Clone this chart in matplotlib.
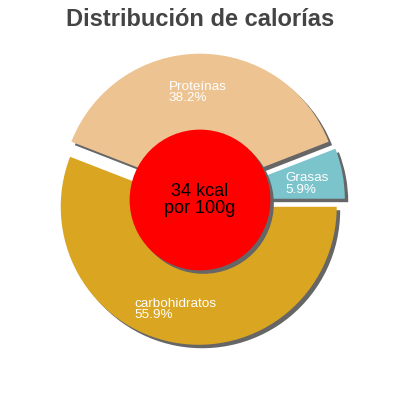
import matplotlib
matplotlib.use('Agg')
import matplotlib.pyplot as plt
import numpy as np

plt.rcParams['font.family'] = ['Liberation Sans', 'DejaVu Sans']

labels = ['Grasas', 'Proteínas', 'carbohidratos']
values = [5.9, 38.2, 55.9]
colors = ['#7cc4cc', '#edc391', '#daa520']
center_text = '34 kcal\npor 100g'
title = 'Distribución de calorías'

R = 138.0  # pie radius in px
fig = plt.figure(figsize=(4, 4), dpi=100)
ax = fig.add_axes([0, 0, 1, 1])

explode = [0.05, 0.06, 0.05]
sh = (0.025, -0.025)

# shadow first
ax.pie(values, explode=explode, startangle=0, colors=['#666666'] * 3,
       center=sh, radius=1.0, wedgeprops=dict(linewidth=0))
ax.pie(values, explode=explode, startangle=0, colors=colors,
       radius=1.0, wedgeprops=dict(linewidth=0))

# pie() resets limits, so set them afterwards
lim = 200.0 / R
ax.set_xlim(-lim, lim)
ax.set_ylim(-lim, lim)
ax.set_aspect('equal')
ax.axis('off')

# center circle with shadow
ax.add_patch(plt.Circle(sh, 0.51, color='#666666', lw=0))
ax.add_patch(plt.Circle((0, 0), 0.51, color='#ff0000', lw=0))
ax.text(0, 0, center_text, ha='center', va='center', fontsize=13,
        color='black', linespacing=1.0)

# slice labels
label_pos = [(0.62, 0.2), (-0.225, 0.865), (-0.475, -0.71)]
for name, v, (x, y) in zip(labels, values, label_pos):
    ax.text(x, y, '%s\n%.1f%%' % (name, v), ha='left', va='top',
            fontsize=9.7, color='white', linespacing=0.9)

fig.text(0.5, 0.95, title, ha='center', va='center', fontsize=17,
         fontweight='bold', color='#444444')

fig.savefig('out.png', dpi=100)
